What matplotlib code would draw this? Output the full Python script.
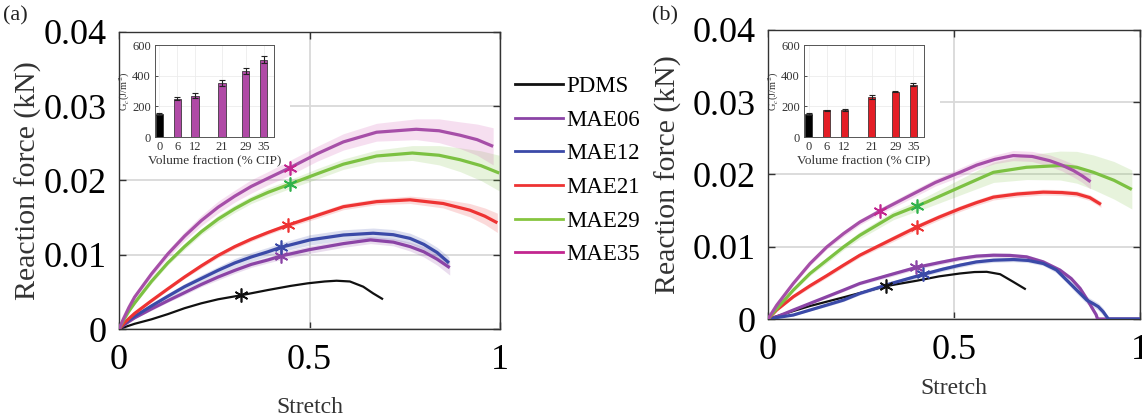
import numpy as np
import matplotlib
matplotlib.use('Agg')
import matplotlib.pyplot as plt
from matplotlib.lines import Line2D
from matplotlib.patches import Rectangle

plt.rcParams['font.family'] = ['Liberation Serif', 'DejaVu Serif']
plt.rcParams['mathtext.fontset'] = 'stix'

names = ['PDMS', 'MAE06', 'MAE12', 'MAE21', 'MAE29', 'MAE35']
line_cols = ['#111111', '#8b44a6', '#3b4aa8', '#ee3333', '#7cc142', '#a64fa8']
star_cols = ['#111111', '#8b44a6', '#3b4aa8', '#ee3333', '#2fb24c', '#c2268f']
legend_cols = ['#111111', '#8b44a6', '#3b4aa8', '#ee3333', '#86c540', '#c2268f']
band_cols = [None, '#8b44a6', '#3b4aa8', '#ee3333', '#7cc142', '#d04fb0']

# ---- panel (a) curves: stretch, force (kN), band half-width ----
a_pdms_x = [0, 0.041, 0.085, 0.128, 0.172, 0.216, 0.26, 0.319, 0.391, 0.45, 0.495, 0.54, 0.571, 0.606, 0.641, 0.667, 0.693]
a_pdms_y = [0, 0.0007, 0.0013, 0.0020, 0.0028, 0.00346, 0.0040, 0.00453, 0.00525, 0.0058, 0.00615, 0.0064, 0.0065, 0.0064, 0.0057, 0.0048, 0.0040]

a_mae06_x = [0, 0.012, 0.026, 0.041, 0.085, 0.128, 0.172, 0.216, 0.26, 0.304, 0.347, 0.391, 0.425, 0.501, 0.589, 0.66, 0.72, 0.764, 0.8, 0.835, 0.868]
a_mae06_y = [0, 0.0005, 0.0010, 0.0015, 0.0027, 0.0038, 0.0049, 0.0060, 0.0070, 0.0079, 0.0087, 0.0093, 0.00983, 0.0107, 0.0115, 0.0120, 0.0117, 0.0111, 0.0104, 0.0094, 0.00826]
a_mae06_b = [0, 0.0001, 0.0001, 0.0001, 0.0002, 0.0002, 0.0003, 0.0003, 0.0004, 0.0004, 0.0004, 0.0004, 0.0005, 0.0005, 0.0005, 0.0005, 0.0005, 0.0006, 0.0007, 0.0008, 0.0010]

a_mae12_x = [0, 0.012, 0.026, 0.041, 0.085, 0.128, 0.172, 0.216, 0.26, 0.304, 0.347, 0.391, 0.425, 0.501, 0.589, 0.667, 0.72, 0.764, 0.8, 0.835, 0.866]
a_mae12_y = [0, 0.0006, 0.0012, 0.0017, 0.0031, 0.0044, 0.0057, 0.0068, 0.0079, 0.0089, 0.0097, 0.0104, 0.0110, 0.0120, 0.01266, 0.0129, 0.0127, 0.0122, 0.0114, 0.0103, 0.0089]
a_mae12_b = [0, 0.0001, 0.0002, 0.0002, 0.0003, 0.0004, 0.0004, 0.0005, 0.0005, 0.0006, 0.0006, 0.0006, 0.0006, 0.0007, 0.0007, 0.0007, 0.0007, 0.0007, 0.0007, 0.0007, 0.0008]

a_mae21_x = [0, 0.012, 0.026, 0.041, 0.085, 0.128, 0.172, 0.216, 0.26, 0.304, 0.347, 0.391, 0.444, 0.52, 0.589, 0.676, 0.764, 0.851, 0.921, 0.96, 0.993]
a_mae21_y = [0, 0.0007, 0.0014, 0.0021, 0.0038, 0.0054, 0.0070, 0.0085, 0.0099, 0.0111, 0.0121, 0.0130, 0.0140, 0.0153, 0.01647, 0.01715, 0.0174, 0.0169, 0.0160, 0.0152, 0.0143]
a_mae21_b = [0, 0.0001, 0.0001, 0.0001, 0.0002, 0.0002, 0.0002, 0.0003, 0.0003, 0.0003, 0.0003, 0.0003, 0.0003, 0.0004, 0.0004, 0.0004, 0.0005, 0.0006, 0.0009, 0.0011, 0.0013]

a_mae29_x = [0, 0.012, 0.026, 0.041, 0.085, 0.128, 0.172, 0.216, 0.26, 0.304, 0.347, 0.391, 0.448, 0.52, 0.589, 0.676, 0.77, 0.84, 0.895, 0.95, 0.998]
a_mae29_y = [0, 0.0012, 0.0024, 0.0035, 0.0064, 0.0089, 0.0111, 0.0131, 0.0148, 0.0162, 0.0174, 0.0184, 0.0195, 0.0209, 0.0222, 0.0233, 0.0237, 0.0234, 0.0228, 0.0220, 0.0210]
a_mae29_b = [0, 0.0001, 0.0001, 0.0002, 0.0003, 0.0003, 0.0004, 0.0004, 0.0005, 0.0005, 0.0005, 0.0006, 0.0006, 0.0007, 0.0007, 0.0008, 0.0010, 0.0013, 0.0016, 0.0020, 0.0024]

a_mae35_x = [0, 0.012, 0.026, 0.041, 0.085, 0.128, 0.172, 0.216, 0.26, 0.304, 0.347, 0.391, 0.448, 0.52, 0.589, 0.676, 0.78, 0.84, 0.895, 0.94, 0.982]
a_mae35_y = [0, 0.0014, 0.0029, 0.0043, 0.0074, 0.0101, 0.0125, 0.0146, 0.0164, 0.0179, 0.0192, 0.0203, 0.0217, 0.0236, 0.0252, 0.0265, 0.0269, 0.0267, 0.0261, 0.0255, 0.0246]
a_mae35_b = [0, 0.0001, 0.0002, 0.0003, 0.0004, 0.0005, 0.0006, 0.0007, 0.0008, 0.0008, 0.0009, 0.0009, 0.0010, 0.0010, 0.0011, 0.0012, 0.0014, 0.0016, 0.0018, 0.0021, 0.0025]

a_star_x = [0.319, 0.425, 0.425, 0.444, 0.448, 0.448]
a_star_y = [0.00453, 0.00983, 0.0110, 0.0140, 0.0195, 0.0217]

# ---- panel (b) curves ----
b_pdms_x = [0, 0.068, 0.113, 0.158, 0.203, 0.247, 0.317, 0.40, 0.46, 0.516, 0.555, 0.588, 0.624, 0.659, 0.693]
b_pdms_y = [0, 0.0011, 0.0018, 0.0024, 0.0030, 0.0036, 0.00455, 0.0053, 0.0059, 0.0063, 0.0065, 0.00653, 0.0062, 0.00515, 0.0041]

b_mae06_x = [0, 0.0233, 0.068, 0.113, 0.158, 0.203, 0.247, 0.32, 0.398, 0.46, 0.516, 0.56, 0.606, 0.65, 0.695, 0.74, 0.785, 0.815, 0.839, 0.858, 0.875, 0.882, 0.886, 1.0]
b_mae06_y = [0, 0.0003, 0.00124, 0.00216, 0.00308, 0.004, 0.00492, 0.006, 0.00713, 0.0078, 0.00837, 0.0087, 0.00883, 0.0088, 0.0086, 0.0079, 0.00676, 0.0056, 0.00423, 0.0027, 0.0012, 0.0006, 0, 0]
b_mae06_b = [0, 0, 0.0001, 0.0001, 0.0002, 0.0002, 0.0002, 0.0003, 0.0003, 0.0003, 0.0003, 0.0003, 0.0003, 0.0003, 0.0003, 0.0003, 0.0003, 0.0003, 0.0003, 0.0003, 0.0003, 0.0002, 0, 0]

b_mae12_x = [0, 0.0233, 0.068, 0.113, 0.158, 0.203, 0.247, 0.33, 0.416, 0.47, 0.516, 0.56, 0.606, 0.66, 0.70, 0.74, 0.775, 0.803, 0.83, 0.857, 0.875, 0.888, 0.901, 0.908, 0.915, 1.0]
b_mae12_y = [0, 0.0002, 0.00055, 0.00124, 0.00193, 0.00262, 0.00354, 0.0049, 0.00616, 0.0069, 0.00745, 0.0079, 0.00814, 0.00823, 0.0081, 0.00768, 0.0068, 0.00538, 0.0040, 0.00262, 0.0021, 0.0017, 0.001, 0.0005, 0, 0]
b_mae12_b = [0, 0, 0.0001, 0.0001, 0.0002, 0.0002, 0.0002, 0.0003, 0.0003, 0.0003, 0.0003, 0.0003, 0.0003, 0.0003, 0.0003, 0.0003, 0.0004, 0.0004, 0.0005, 0.0005, 0.0005, 0.0005, 0.0005, 0.0003, 0, 0]

b_mae21_x = [0, 0.0233, 0.068, 0.113, 0.158, 0.203, 0.247, 0.337, 0.40, 0.46, 0.516, 0.56, 0.606, 0.67, 0.74, 0.79, 0.83, 0.865, 0.895]
b_mae21_y = [0, 0.00124, 0.00308, 0.0046, 0.0060, 0.00745, 0.00883, 0.01113, 0.01273, 0.0141, 0.01527, 0.0161, 0.01687, 0.0173, 0.01756, 0.0175, 0.01733, 0.0168, 0.01586]
b_mae21_b = [0, 0.0001, 0.0002, 0.0003, 0.0003, 0.0003, 0.0003, 0.0004, 0.0004, 0.0004, 0.0004, 0.0004, 0.0004, 0.0004, 0.0004, 0.0004, 0.0004, 0.0004, 0.0004]

b_mae29_x = [0, 0.0233, 0.068, 0.113, 0.158, 0.203, 0.247, 0.337, 0.40, 0.427, 0.516, 0.606, 0.695, 0.785, 0.83, 0.875, 0.93, 0.978]
b_mae29_y = [0, 0.0014, 0.004, 0.0063, 0.00814, 0.00997, 0.01159, 0.01434, 0.01563, 0.0162, 0.01825, 0.0203, 0.0210, 0.02124, 0.0210, 0.0203, 0.0192, 0.01793]
b_mae29_b = [0, 0.0001, 0.0002, 0.0003, 0.0004, 0.0004, 0.0005, 0.0006, 0.0007, 0.0008, 0.0011, 0.0014, 0.0017, 0.0020, 0.0022, 0.0024, 0.0026, 0.0027]

b_mae35_x = [0, 0.0233, 0.068, 0.113, 0.158, 0.203, 0.247, 0.301, 0.382, 0.45, 0.516, 0.561, 0.61, 0.659, 0.71, 0.758, 0.79, 0.821, 0.845, 0.867]
b_mae35_y = [0, 0.0019, 0.00492, 0.00768, 0.00997, 0.01182, 0.01342, 0.01494, 0.0171, 0.0189, 0.0203, 0.0213, 0.0221, 0.02262, 0.0225, 0.0219, 0.0213, 0.02055, 0.0198, 0.0190]
b_mae35_b = [0, 0.0001, 0.0002, 0.0003, 0.0003, 0.0004, 0.0004, 0.0004, 0.0005, 0.0005, 0.0006, 0.0006, 0.0006, 0.0007, 0.0007, 0.0008, 0.0008, 0.0009, 0.0009, 0.0010]

b_star_x = [0.317, 0.398, 0.416, 0.40, 0.40, 0.301]
b_star_y = [0.00455, 0.00713, 0.00616, 0.01273, 0.01563, 0.01494]

# ---- insets: critical energy release rate ----
vol_frac = [0, 6, 12, 21, 29, 35]
a_gc = [150, 250, 270, 350, 430, 505]
a_gc_err = [5, 8, 18, 20, 20, 25]
b_gc = [150, 175, 178, 260, 295, 340]
b_gc_err = [5, 4, 6, 12, 4, 10]

a_series = [(a_pdms_x, a_pdms_y, None), (a_mae06_x, a_mae06_y, a_mae06_b),
            (a_mae12_x, a_mae12_y, a_mae12_b), (a_mae21_x, a_mae21_y, a_mae21_b),
            (a_mae29_x, a_mae29_y, a_mae29_b), (a_mae35_x, a_mae35_y, a_mae35_b)]
b_series = [(b_pdms_x, b_pdms_y, None), (b_mae06_x, b_mae06_y, b_mae06_b),
            (b_mae12_x, b_mae12_y, b_mae12_b), (b_mae21_x, b_mae21_y, b_mae21_b),
            (b_mae29_x, b_mae29_y, b_mae29_b), (b_mae35_x, b_mae35_y, b_mae35_b)]

W, H = 1142, 419
fig = plt.figure(figsize=(W / 100, H / 100), dpi=100)


def px_axes(l, t, r, b):
    return fig.add_axes([l / W, 1 - b / H, (r - l) / W, (b - t) / H])


def draw_main(ax, series, sx, sy, box_w, box_h, ylab_x, xlab_y):
    for i, (x, y, band) in enumerate(series):
        x = np.array(x)
        y = np.array(y)
        if band is not None:
            band = np.array(band)
            ax.fill_between(x, y - band, y + band, color=band_cols[i], alpha=0.18,
                            lw=0, zorder=1.6)
        ax.plot(x, y, color=line_cols[i], lw=1.6 if i == 0 else 2.3,
                zorder=2.5 + 0.1 * i, solid_joinstyle='round', solid_capstyle='butt')
    for i in range(len(sx)):
        ax.plot(sx[i], sy[i], marker=(6, 2, 0), ms=10, mew=1.2, color=star_cols[i],
                zorder=4)
    ax.add_patch(Rectangle((0, 1 - box_h), box_w, box_h, transform=ax.transAxes,
                           facecolor='white', edgecolor='none', zorder=1.8))
    ax.set_xlim(0, 1)
    ax.set_ylim(0, 0.04)
    ax.set_xticks([0, 0.5, 1])
    ax.set_xticklabels(['0', '0.5', '1'])
    ax.set_yticks([0, 0.01, 0.02, 0.03, 0.04])
    ax.set_yticklabels(['0', '0.01', '0.02', '0.03', '0.04'])
    ax.grid(True, color='#d9d9d9', lw=1.3)
    ax.tick_params(direction='in', top=True, right=True, labelsize=26, length=5,
                   width=1, color='#333333')
    ax.tick_params(axis='y', pad=9)
    ax.tick_params(axis='x', pad=11)
    for s in ax.spines.values():
        s.set_color('#333333')
        s.set_linewidth(1.0)
    ax.set_ylabel('Reaction force (kN)', fontsize=21.5, color='#333333')
    ax.set_xlabel('Stretch', fontsize=17, color='#333333')
    ax.yaxis.set_label_coords(ylab_x, 0.5)
    ax.xaxis.set_label_coords(0.5, xlab_y)


def draw_inset(ax, gc, err, col):
    cols = ['black'] + [col] * (len(vol_frac) - 1)
    ax.bar(vol_frac, gc, width=2.5, color=cols, edgecolor='#222222', lw=0.5,
           yerr=err, capsize=2.5,
           error_kw=dict(elinewidth=0.8, capthick=0.8, ecolor='#222222'))
    ax.set_xlim(-1.5, 38.5)
    ax.set_ylim(0, 600)
    ax.set_xticks(vol_frac)
    ax.set_yticks([0, 200, 400, 600])
    ax.grid(True, color='#ececec', lw=0.6)
    ax.set_axisbelow(True)
    ax.tick_params(direction='in', labelsize=9, length=2, width=0.6, pad=3,
                   colors='#333333')
    for s in ax.spines.values():
        s.set_color('#555555')
        s.set_linewidth(0.7)
    ax.set_xlabel('Volume fraction (% CIP)', fontsize=9.5, labelpad=1, color='#333333')
    ax.set_ylabel('G$_c$(J/m$^2$)', fontsize=7.5, labelpad=0, color='#333333')
    ax.yaxis.set_label_coords(-0.19, 0.5)


ax_a = px_axes(119, 32, 500, 329)
draw_main(ax_a, a_series, a_star_x, a_star_y, 0.449, 0.448, -0.202, -0.229)
ax_b = px_axes(768, 30, 1140, 319)
draw_main(ax_b, b_series, b_star_x, b_star_y, 0.462, 0.467, -0.231, -0.204)

in_a = px_axes(155, 45, 274, 137)
draw_inset(in_a, a_gc, a_gc_err, '#b04aa6')
in_b = px_axes(804, 45, 924, 137)
draw_inset(in_b, b_gc, b_gc_err, '#e41e26')

handles = [Line2D([0], [0], color=legend_cols[i], lw=2) for i in range(len(names))]
fig.legend(handles, names, loc='upper left', bbox_to_anchor=(506 / W, 1 - 67 / H),
           frameon=False, fontsize=16.5, handlelength=2.1, handletextpad=0.15,
           labelspacing=0.55, borderaxespad=0)

fig.text(3 / W, 1 - 6 / H, '(a)', fontsize=16, va='top', ha='left', color='#222222')
fig.text(652 / W, 1 - 6 / H, '(b)', fontsize=16, va='top', ha='left', color='#222222')

fig.savefig('out.png', dpi=100)
